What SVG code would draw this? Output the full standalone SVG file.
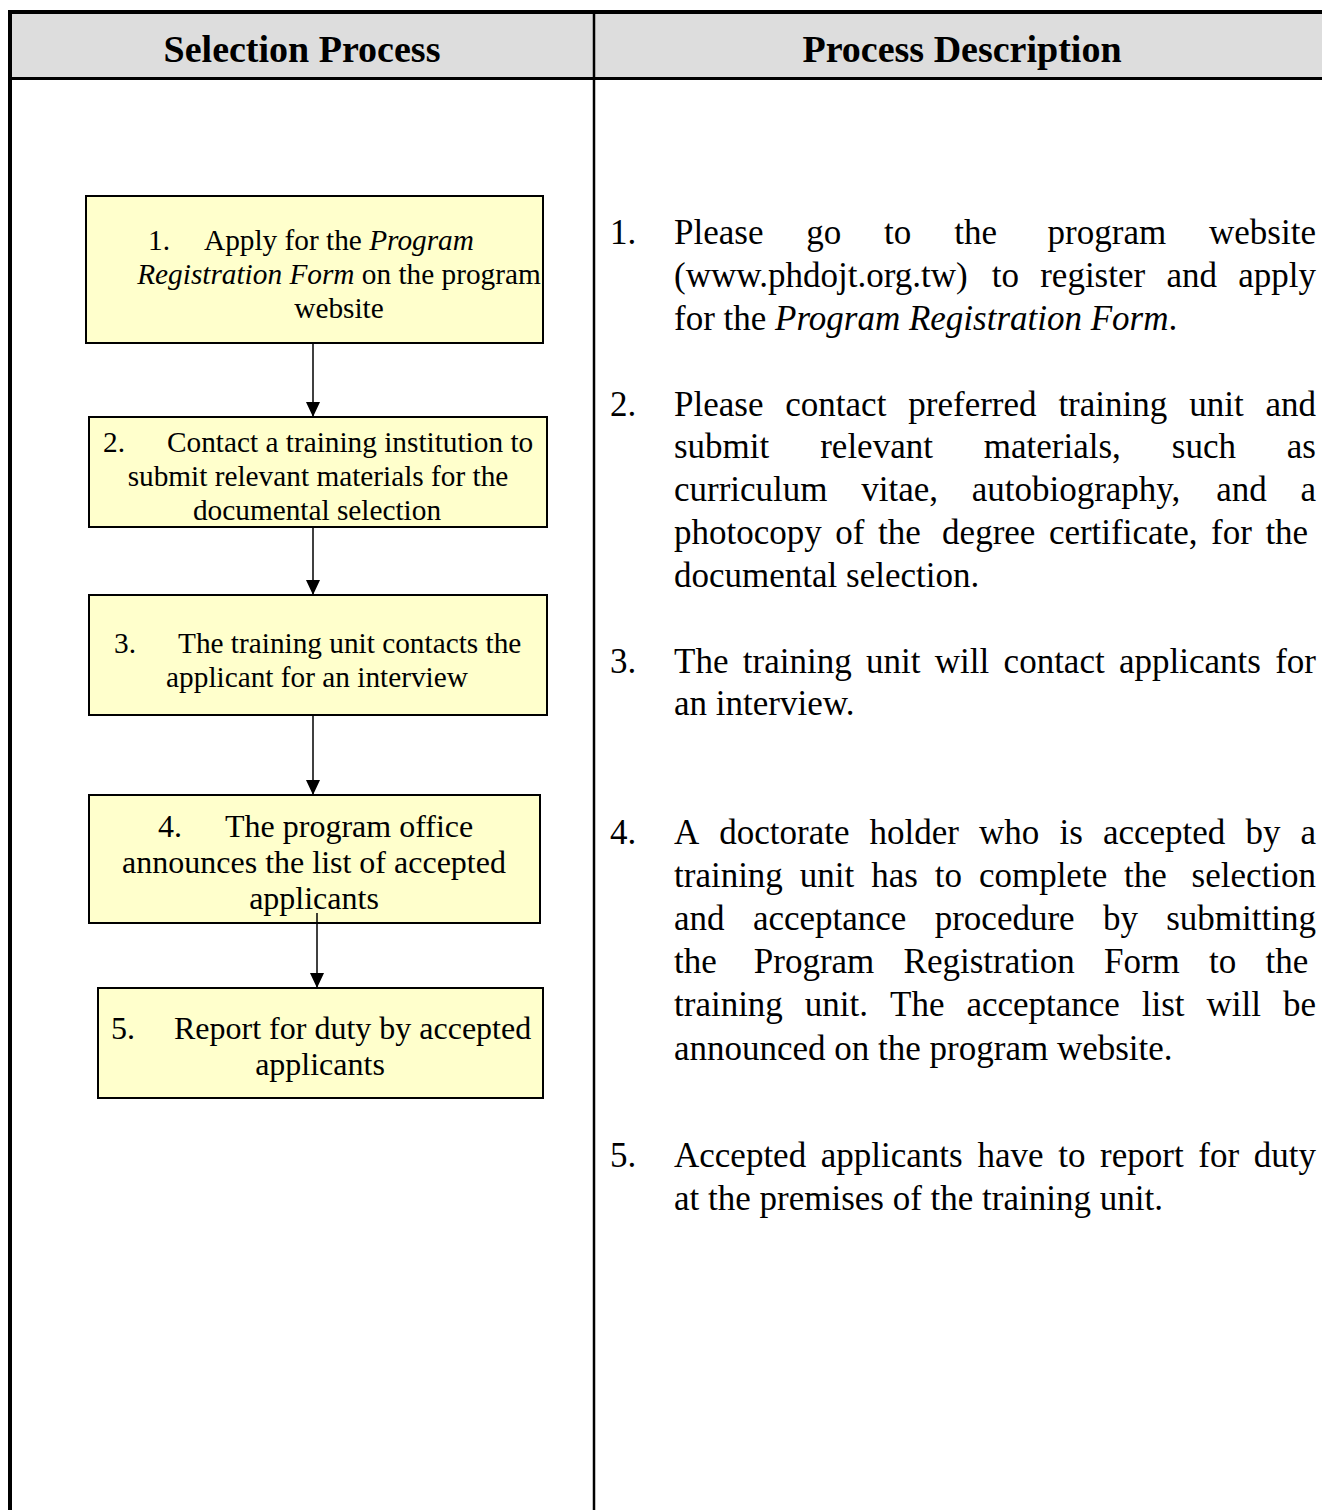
<svg xmlns="http://www.w3.org/2000/svg" width="1322" height="1510" viewBox="0 0 1322 1510">
<style>
.t{font-family:"Liberation Serif","Times New Roman",serif;fill:#000}
.h{font-size:38px;font-weight:bold;text-anchor:middle}
.b{font-size:35px}
.s{font-size:29.3px}
.m{font-size:32px}
.c{text-anchor:middle}
.i{font-style:italic}
.box{fill:#FFFFCC;stroke:#000;stroke-width:2}
.rule{stroke:#000;fill:none}
.conn{stroke:#000;stroke-width:1.5;fill:none;marker-end:url(#ah)}
</style>
<defs>
<marker id="ah" markerWidth="15" markerHeight="14" refX="15" refY="7" orient="auto" markerUnits="userSpaceOnUse" viewBox="0 0 15 14">
<path d="M0,0 L15,7 L0,14 z" fill="#000"/>
</marker>
</defs>
<rect x="0" y="0" width="1322" height="1510" fill="#fff"/>

<g id="table">
<rect x="10" y="12" width="1312" height="66.5" fill="#DDDDDD"/>
<line class="rule" x1="8" y1="12" x2="1322" y2="12" stroke-width="4"/>
<line class="rule" x1="10" y1="10" x2="10" y2="1510" stroke-width="4"/>
<line class="rule" x1="10" y1="78.5" x2="1322" y2="78.5" stroke-width="3"/>
<line class="rule" x1="594" y1="12" x2="594" y2="1510" stroke-width="2.5"/>
<text class="t h" x="302" y="62">Selection Process</text>
<text class="t h" x="962" y="62">Process Description</text>
</g>

<g id="node1">
<rect class="box" x="86" y="196" width="457" height="147"/>
<text class="t s" x="148" y="250">1.<tspan x="204">Apply for the </tspan><tspan class="i">Program</tspan></text>
<text class="t s c" x="339" y="284"><tspan class="i">Registration Form</tspan> on the program</text>
<text class="t s c" x="339" y="318">website</text>
</g>

<g id="node2">
<rect class="box" x="89" y="417" width="458" height="110"/>
<text class="t s" x="103" y="452">2.<tspan x="167">Contact a training institution to</tspan></text>
<text class="t s c" x="318" y="486">submit relevant materials for the</text>
<text class="t s c" x="317" y="520">documental selection</text>
</g>

<g id="node3">
<rect class="box" x="89" y="595" width="458" height="120"/>
<text class="t s" x="114" y="653">3.<tspan x="178">The training unit contacts the</tspan></text>
<text class="t s c" x="317" y="687">applicant for an interview</text>
</g>

<g id="node4">
<rect class="box" x="89" y="795" width="451" height="128"/>
<text class="t m" x="158" y="837">4.<tspan x="225">The program office</tspan></text>
<text class="t m c" x="314" y="873">announces the list of accepted</text>
<text class="t m c" x="314" y="909">applicants</text>
</g>

<g id="node5">
<rect class="box" x="98" y="988" width="445" height="110"/>
<text class="t m" x="111" y="1039">5.<tspan x="174">Report for duty by accepted</tspan></text>
<text class="t m c" x="320" y="1075">applicants</text>
</g>

<g id="connectors">
<path class="conn" d="M313,343 L313,417"/>
<path class="conn" d="M313,527 L313,595"/>
<path class="conn" d="M313,715 L313,795"/>
<path class="conn" d="M317,913 L317,988"/>
</g>

<g id="desc1">
<text class="t b" y="244"><tspan x="610">1.</tspan><tspan x="674">Please</tspan><tspan x="806.3">go</tspan><tspan x="884.1">to</tspan><tspan x="954.2">the</tspan><tspan x="1047.6">program</tspan><tspan x="1209">website</tspan></text>
<text class="t b" y="287"><tspan x="674">(www.phdojt.org.tw)</tspan><tspan x="991.7">to</tspan><tspan x="1040.2">register</tspan><tspan x="1166.4">and</tspan><tspan x="1238.2">apply</tspan></text>
<text class="t b" x="674" y="330">for the <tspan class="i">Program Registration Form</tspan>.</text>
</g>

<g id="desc2">
<text class="t b" y="416"><tspan x="610">2.</tspan><tspan x="674">Please</tspan><tspan x="785.3">contact</tspan><tspan x="908.3">preferred</tspan><tspan x="1058.4">training</tspan><tspan x="1189.2">unit</tspan><tspan x="1265.5">and</tspan></text>
<text class="t b" y="458"><tspan x="674">submit</tspan><tspan x="820.2">relevant</tspan><tspan x="983.8">materials,</tspan><tspan x="1171.8">such</tspan><tspan x="1286.8">as</tspan></text>
<text class="t b" y="501"><tspan x="674">curriculum</tspan><tspan x="861.2">vitae,</tspan><tspan x="971.7">autobiography,</tspan><tspan x="1216.3">and</tspan><tspan x="1300.5">a</tspan></text>
<text class="t b" y="544"><tspan x="674">photocopy</tspan><tspan x="835.3">of</tspan><tspan x="878">the</tspan><tspan x="942.1">degree</tspan><tspan x="1048.9">certificate,</tspan><tspan x="1211.1">for</tspan><tspan x="1265.4">the</tspan></text>
<text class="t b" x="674" y="587">documental selection.</text>
</g>

<g id="desc3">
<text class="t b" y="673"><tspan x="610">3.</tspan><tspan x="674">The</tspan><tspan x="742.8">training</tspan><tspan x="866">unit</tspan><tspan x="934.8">will</tspan><tspan x="1003.6">contact</tspan><tspan x="1119">applicants</tspan><tspan x="1275.2">for</tspan></text>
<text class="t b" x="674" y="715">an interview.</text>
</g>

<g id="desc4">
<text class="t b" y="844"><tspan x="610">4.</tspan><tspan x="674">A</tspan><tspan x="719.3">doctorate</tspan><tspan x="869.6">holder</tspan><tspan x="979.1">who</tspan><tspan x="1059.5">is</tspan><tspan x="1102.9">accepted</tspan><tspan x="1245.4">by</tspan><tspan x="1300.5">a</tspan></text>
<text class="t b" y="887"><tspan x="674">training</tspan><tspan x="799.8">unit</tspan><tspan x="871.2">has</tspan><tspan x="934.8">to</tspan><tspan x="978.9">complete</tspan><tspan x="1124.1">the</tspan><tspan x="1191.6">selection</tspan></text>
<text class="t b" y="930"><tspan x="674">and</tspan><tspan x="752.9">acceptance</tspan><tspan x="934.7">procedure</tspan><tspan x="1102.9">by</tspan><tspan x="1166.2">submitting</tspan></text>
<text class="t b" y="973"><tspan x="674">the</tspan><tspan x="753.8">Program</tspan><tspan x="903.6">Registration</tspan><tspan x="1104">Form</tspan><tspan x="1209.1">to</tspan><tspan x="1265.5">the</tspan></text>
<text class="t b" y="1016"><tspan x="674">training</tspan><tspan x="804.8">unit.</tspan><tspan x="890">The</tspan><tspan x="966.4">acceptance</tspan><tspan x="1141.8">list</tspan><tspan x="1206.6">will</tspan><tspan x="1283">be</tspan></text>
<text class="t b" x="674" y="1060">announced on the program website.</text>
</g>

<g id="desc5">
<text class="t b" y="1167"><tspan x="610">5.</tspan><tspan x="674">Accepted</tspan><tspan x="820.8">applicants</tspan><tspan x="977.4">have</tspan><tspan x="1058.2">to</tspan><tspan x="1100.1">report</tspan><tspan x="1198.3">for</tspan><tspan x="1253.8">duty</tspan></text>
<text class="t b" x="674" y="1210">at the premises of the training unit.</text>
</g>
</svg>
